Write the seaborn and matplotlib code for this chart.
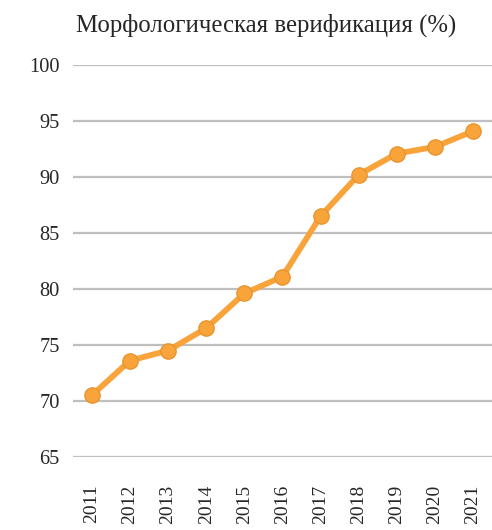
import matplotlib
matplotlib.use("Agg")
import matplotlib.pyplot as plt
import seaborn as sns
import pandas as pd

sns.set_style("white")
plt.rcParams['font.family'] = ['Liberation Serif', 'DejaVu Serif']

# Data
years = [2011, 2012, 2013, 2014, 2015, 2016, 2017, 2018, 2019, 2020, 2021]
values = [70.5, 73.6, 74.5, 76.5, 79.6, 81.1, 86.5, 90.2, 92.1, 92.7, 94.1]
y_ticks = [65, 70, 75, 80, 85, 90, 95, 100]
title = 'Морфологическая верификация (%)'

df = pd.DataFrame({'year': years, 'value': values})

fig = plt.figure(figsize=(4.92, 5.30), dpi=100)
ax = fig.add_axes([0.148, 0.138, 0.852, 0.739])

sns.lineplot(data=df, x='year', y='value', ax=ax, color='#F9A33B',
             linewidth=4.2, marker='o', markersize=11,
             markerfacecolor='#F9A33B', markeredgecolor='#E8952F',
             markeredgewidth=1.0, zorder=3)

ax.set_ylim(65, 100)
ax.set_yticks(y_ticks)
ax.set_xlim(years[0] - 0.5, years[-1] + 0.5)
ax.set_xticks(years)
ax.set_xticklabels([str(y) for y in years], rotation=90)
ax.tick_params(axis='y', labelsize=14.7, length=0, pad=9.5)
ax.tick_params(axis='x', labelsize=14, length=0, pad=20)
ax.yaxis.grid(True, color='#BFBFBF', linewidth=1.6)
ax.xaxis.grid(False)
ax.set_axisbelow(True)
for s in ax.spines.values():
    s.set_visible(False)
ax.set_xlabel('')
ax.set_ylabel('')

fig.text(0.541, 0.953, title, ha='center', va='center', fontsize=17.8)

fig.savefig('out.png', dpi=100)
